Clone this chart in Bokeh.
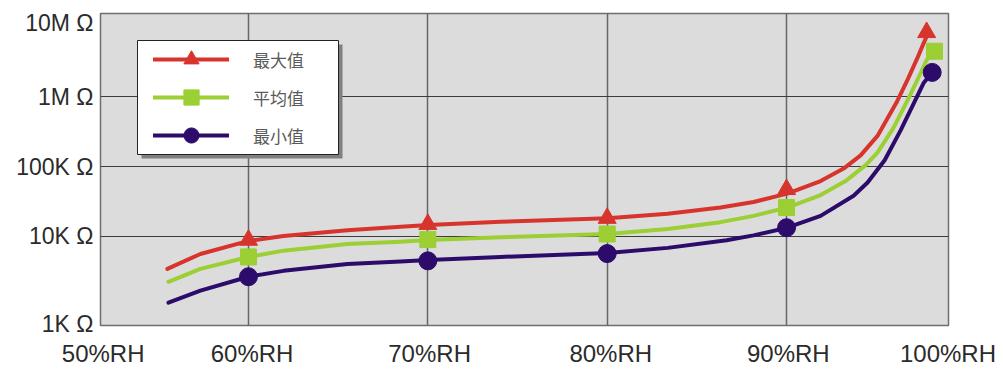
from bokeh.plotting import figure
from bokeh.models import (Range1d, FixedTicker, BoxAnnotation, Legend, LegendItem)
from bokeh.embed import file_html
from bokeh.resources import INLINE

# ---------------- data ----------------
series_names = ["最大值", "平均值", "最小值"]

# curve traces (%RH, ohm)
rh_max = [55.48, 57.32, 60.0, 61.95, 65.52, 68.48, 70.04, 74.05, 80.02, 83.37, 86.32, 88.16,
          90.04, 91.9, 93.18, 94.13, 95.07, 96.13, 96.75, 97.31, 97.64, 97.81]
r_max = [3380, 5530, 8510, 10000, 12160, 13650, 14390, 16030, 18070, 20890, 25700, 30900,
         40740, 61660, 93300, 144500, 275400, 831800, 1.778e6, 3.715e6, 5.89e6, 7.41e6]

rh_avg = [55.54, 57.32, 60.0, 61.95, 65.52, 68.48, 70.04, 74.05, 80.02, 83.37, 86.32, 88.16,
          90.04, 91.9, 93.29, 94.41, 95.07, 95.97, 96.8, 97.36, 97.81, 98.25]
r_avg = [2200, 3380, 5010, 6170, 7690, 8290, 8770, 9580, 10700, 12590, 15850, 19500,
         25700, 38900, 61700, 104700, 158500, 363000, 955000, 1.905e6, 3.39e6, 4.54e6]

rh_min = [55.54, 57.32, 60.0, 61.95, 65.52, 68.48, 70.04, 74.05, 80.02, 83.37, 86.66, 88.16,
          90.04, 91.9, 93.74, 94.52, 95.47, 96.36, 97.08, 97.64, 98.12]
r_min = [1100, 1640, 2600, 3160, 3980, 4315, 4519, 5012, 5689, 6761, 8710, 10230,
         13180, 19500, 38020, 58880, 123000, 331000, 794000, 1.585e6, 2.254e6]

# marker points (%RH, ohm)
mk_rh_max = [60, 70, 80, 90, 97.81]
mk_r_max = [8770, 14800, 18100, 46900, 8.48e6]
mk_rh_avg = [60, 70, 80, 90, 98.25]
mk_r_avg = [5010, 8900, 10700, 25700, 4.54e6]
mk_rh_min = [60, 70, 80, 90, 98.12]
mk_r_min = [2600, 4400, 5600, 13180, 2.254e6]

x_tick_labels = ["50%RH", "60%RH", "70%RH", "80%RH", "90%RH", "100%RH"]
y_tick_labels = ["10M Ω", "1M Ω", "100K Ω", "10K Ω", "1K Ω"]

# ---------------- layout / style ----------------
X0, X1 = 51.75, 99.03
Y0, Y1 = 10 ** 2.714, 10 ** 7.2
x_label_at = [51.9, 60.2, 70.1, 80.2, 90.1, 99.0]
y_label_at = [10 ** 7.06, 1e6, 1e5, 1e4, 10 ** 2.73]

RED = "#d8342e"
GREEN = "#9bcf34"
PURPLE = "#2c0b6b"
TXT = "#2b2b2b"

p = figure(width=1003, height=369, x_range=Range1d(X0, X1), y_range=Range1d(Y0, Y1),
           y_axis_type="log", output_backend="svg", toolbar_location=None,
           min_border_left=100, min_border_right=55, min_border_top=13, min_border_bottom=42)

p.background_fill_color = "#dcdcdc"
p.border_fill_color = "white"
p.outline_line_color = "#6e6e6e"
p.outline_line_width = 1.5

# axes: labels only
p.xaxis.ticker = FixedTicker(ticks=x_label_at)
p.xaxis.major_label_overrides = {t: s for t, s in zip(x_label_at, x_tick_labels)}
p.yaxis.ticker = FixedTicker(ticks=y_label_at)
p.yaxis.major_label_overrides = {t: s for t, s in zip(y_label_at, y_tick_labels)}
for ax in (p.xaxis, p.yaxis):
    ax.axis_line_color = None
    ax.major_tick_line_color = None
    ax.minor_tick_line_color = None
    ax.major_tick_out = 0
    ax.major_tick_in = 0
    ax.major_label_text_font = "Liberation Sans"
    ax.major_label_text_color = TXT
p.xaxis.major_label_text_font_size = "24px"
p.xaxis.major_label_standoff = 14
p.yaxis.major_label_text_font_size = "23px"
p.yaxis.major_label_standoff = 7

p.xgrid.ticker = FixedTicker(ticks=[60, 70, 80, 90])
p.xgrid.grid_line_color = "#666666"
p.xgrid.grid_line_width = 1.5
p.ygrid.ticker = FixedTicker(ticks=[1e4, 1e5, 1e6])
p.ygrid.grid_line_color = "#3c3c3c"
p.ygrid.grid_line_width = 1.2

series = [
    (rh_max, r_max, mk_rh_max, mk_r_max, RED, "triangle", 18),
    (rh_avg, r_avg, mk_rh_avg, mk_r_avg, GREEN, "square", 16),
    (rh_min, r_min, mk_rh_min, mk_r_min, PURPLE, "circle", 18),
]

items = []
for name, (xs, ys, mx, my, c, mk, sz) in zip(series_names, series):
    ln = p.line(xs, ys, line_width=4, line_color=c, line_join="round", line_cap="round")
    sc = p.scatter(mx, my, marker=mk, size=sz, fill_color=c, line_color=c)
    items.append(LegendItem(label=name, renderers=[ln, sc]))

# legend box with drop shadow
shadow = BoxAnnotation(left=41, right=242, top=281, bottom=167,
                       left_units="screen", right_units="screen",
                       top_units="screen", bottom_units="screen",
                       fill_color="#808080", fill_alpha=1.0, line_color=None)
box = BoxAnnotation(left=37, right=238, top=285, bottom=171,
                    left_units="screen", right_units="screen",
                    top_units="screen", bottom_units="screen",
                    fill_color="white", fill_alpha=1.0, line_color="#222222",
                    line_alpha=1.0, line_width=1)
p.add_layout(shadow)
p.add_layout(box)

legend = Legend(items=items, location=(53, 171), padding=0, margin=0, spacing=0,
                glyph_height=38, glyph_width=76, label_standoff=24, label_height=20,
                border_line_color=None, background_fill_alpha=0.0,
                label_text_font="Noto Sans CJK SC", label_text_font_size="17px",
                label_text_color="#5a5a5a")
p.add_layout(legend)

open("out.html", "w").write(file_html(p, INLINE))
